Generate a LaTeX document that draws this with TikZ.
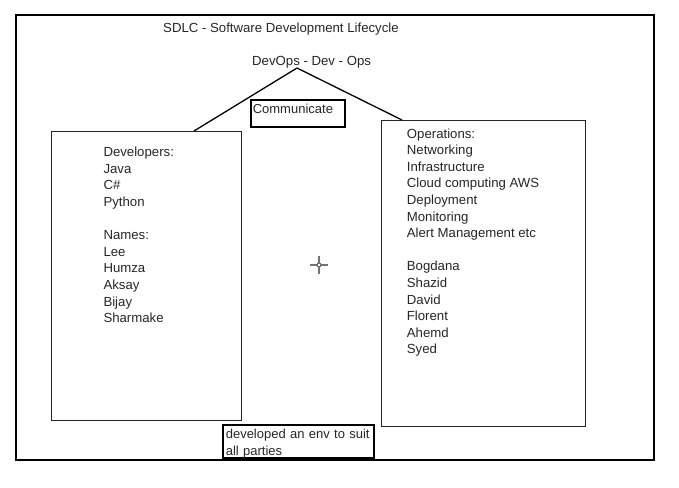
\documentclass[tikz,border=0pt]{standalone}
\usepackage{fontspec}
\setmainfont{Liberation Sans}
\usetikzlibrary{positioning}

\begin{document}
\begin{tikzpicture}[
    x=1pt, y=-1pt,
    txt/.style={font=\fontsize{13.2}{16.6}\selectfont, text=black!85},
    listtext/.style={txt, align=left, anchor=north west, inner sep=0pt},
    panel/.style={draw=black!85, line width=1pt, inner sep=0pt},
    note/.style={draw=black, line width=1.6pt, txt, font=\fontsize{13}{16.6}\selectfont, align=left}
]

\useasboundingbox (0,0) rectangle (679,487);

% Outer frame
\draw[line width=1.6pt] (16,15) rectangle (654,460);

% Titles
\node[txt, anchor=base west, inner sep=0pt] (title) at (163,33) {SDLC - Software Development Lifecycle};
\node[txt, anchor=base west, inner sep=0pt] (devops) at (252,65) {DevOps - Dev - Ops};
\coordinate (apex) at (297,68);

% Developer and operations panels
\node[panel, minimum width=190pt, minimum height=289pt, anchor=north west] (devbox) at (51,131) {};
\node[panel, minimum width=204pt, minimum height=306pt, anchor=north west] (opsbox) at (381,120) {};

% Roof lines
\draw[line width=1.3pt] (apex) -- ([xshift=-48pt]devbox.north east);
\draw[line width=1.3pt] (apex) -- ([xshift=21pt]opsbox.north west);

% Communicate
\node[note, anchor=north west, inner xsep=2pt, inner ysep=2pt,
      text width=90pt, text height=12pt, text depth=11pt] (comm) at (250,99) {Communicate};

% Panel contents
\node[listtext] (devlist) at (103.3,147) {Developers:\\Java\\C\#\\Python\\[16.6pt]Names:\\Lee\\Humza\\Aksay\\Bijay\\Sharmake};
\node[listtext] (opslist) at (406.7,128.3) {Operations:\\Networking\\Infrastructure\\Cloud computing AWS\\Deployment\\Monitoring\\Alert Management etc\\[16.6pt]Bogdana\\Shazid\\David\\Florent\\Ahemd\\Syed};

% Bottom note
\node[note, anchor=north west, inner xsep=3pt, inner ysep=0pt,
      text width=145pt, minimum height=33pt] (suit) at (222,424) {\rule{0pt}{14pt}developed an env to suit\\all parties};

% Cursor
\draw[black!55, line width=1.2pt] (310,265) -- (328,265) (319,256) -- (319,274);
\draw[black!70, fill=white, line width=0.8pt] (319,265) circle (2pt);

\end{tikzpicture}
\end{document}
